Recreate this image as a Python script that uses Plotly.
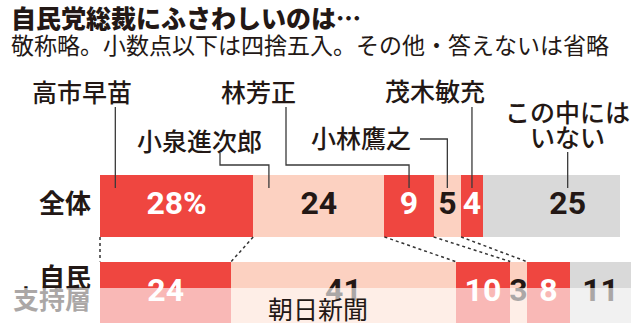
import plotly.graph_objects as go

# Survey: who is suitable as LDP president (percent, rounded)
candidates = ["高市早苗", "小泉進次郎", "林芳正", "小林鷹之", "茂木敏充", "この中にはいない"]
row_names = ["全体", "自民支持層"]
overall = [28, 24, 9, 5, 4, 25]
ldp_supporters = [24, 41, 10, 3, 8, 11]

RED = "#EF4640"
PINK = "#FCD1C1"
GRAY = "#D9D9D9"
INK = "#231815"
seg_colors = [RED, PINK, RED, PINK, RED, GRAY]
text_colors = ["white", INK, "white", INK, "white", INK]

JP = "Noto Sans CJK JP"
NUM = "Roboto, sans-serif"

# pixel geometry of the canvas
W, H = 640, 334
LEFT = 100            # where the bars begin
PX_PER_UNIT = 5.47    # horizontal pixels per percentage point
ROW_PX = 86.5         # vertical distance between the two bars
TOP_CENTER_PX = 206   # vertical centre of the upper bar
BAR_W = 0.715


def xd(px):
    return (px - LEFT) / PX_PER_UNIT


def yd(py):
    return 1 + (TOP_CENTER_PX - py) / ROW_PX


def edges(vals):
    out = [0]
    for v in vals:
        out.append(out[-1] + v)
    return out


top_edges = edges(overall)
bot_edges = edges(ldp_supporters)
TOP_Y, BOT_Y = 1, 0

fig = go.Figure()

for i, name in enumerate(candidates):
    fig.add_bar(
        y=[TOP_Y, BOT_Y], x=[overall[i], ldp_supporters[i]], orientation="h",
        width=BAR_W, marker=dict(color=seg_colors[i], line=dict(width=0)),
        name=name, showlegend=False, hoverinfo="skip",
    )

# where each leader line touches its segment (fraction along the segment)
leader_frac = [0.1, 0.12, 0.5, 0.5, 0.5, 0.62]
anchor = [top_edges[i] + leader_frac[i] * overall[i] for i in range(len(candidates))]

# value labels inside the bars
lx, ly, lt, lc = [], [], [], []
for row_y, vals, ed in [(TOP_Y, overall, top_edges), (BOT_Y, ldp_supporters, bot_edges)]:
    for i, v in enumerate(vals):
        cx = (ed[i] + ed[i + 1]) / 2
        if row_y == TOP_Y and i == len(vals) - 1:
            cx = anchor[i]
        lx.append(cx)
        ly.append(row_y)
        lt.append(f"{v}%" if (row_y == TOP_Y and i == 0) else str(v))
        lc.append(text_colors[i])
fig.add_scatter(
    x=lx, y=ly, text=lt, mode="text", textposition="middle center",
    textfont=dict(family=NUM, size=32, color=lc, weight=700),
    showlegend=False, hoverinfo="skip", cliponaxis=False,
)

# row labels
fig.add_scatter(
    x=[xd(91), xd(91), xd(91)], y=[TOP_Y, yd(280), yd(302)],
    text=[row_names[0], row_names[1][:2], row_names[1][2:]],
    mode="text", textposition="middle left",
    textfont=dict(family=JP, size=26, color=INK, weight=700),
    showlegend=False, hoverinfo="skip", cliponaxis=False,
)

shapes = []
LINE = dict(color="#3a3a3a", width=1.3)
y_in = TOP_Y + BAR_W / 2 - 13 / ROW_PX


def path(pts):
    return "M " + " L ".join(f"{x},{y}" for x, y in pts)


leader_paths = [
    [(anchor[0], yd(107)), (anchor[0], y_in)],
    [(xd(220), yd(153)), (xd(220), yd(165)), (anchor[1], yd(165)), (anchor[1], y_in)],
    [(xd(286), yd(107)), (xd(286), yd(165)), (anchor[2], yd(165)), (anchor[2], y_in)],
    [(xd(420), yd(139)), (anchor[3], yd(139)), (anchor[3], y_in)],
    [(anchor[4], yd(107)), (anchor[4], y_in)],
    [(anchor[5], yd(152)), (anchor[5], y_in)],
]
for pts in leader_paths:
    shapes.append(dict(type="path", path=path(pts), xref="x", yref="y",
                       line=LINE, layer="above"))

# dotted connectors between matching segment boundaries of the two bars
for k in range(5):
    shapes.append(dict(type="line", xref="x", yref="y",
                       x0=top_edges[k], y0=TOP_Y - BAR_W / 2,
                       x1=bot_edges[k], y1=BOT_Y + BAR_W / 2,
                       line=dict(color="#333333", width=1.5, dash="dot"),
                       layer="above"))

# pale band across the bottom
shapes.append(dict(type="rect", xref="x", yref="y",
                   x0=xd(0), x1=xd(W), y0=yd(H), y1=yd(288),
                   fillcolor="rgba(255,255,255,0.62)", line=dict(width=0),
                   layer="above"))

annotations = [
    dict(text="自民党総裁にふさわしいのは…", x=xd(9), y=yd(17), xanchor="left",
         yanchor="middle", font=dict(family=JP, size=25, color=INK, weight=900)),
    dict(text="敬称略。小数点以下は四捨五入。その他・答えないは省略", x=xd(9), y=yd(44),
         xanchor="left", yanchor="middle",
         font=dict(family=JP, size=23, color=INK, weight=400)),
    dict(text="朝日新聞", x=xd(318), y=yd(308), xanchor="center", yanchor="middle",
         font=dict(family=JP, size=25, color=INK, weight=400)),
]

name_pos = [
    ("高市早苗", 82, 91),
    ("小泉進次郎", 199, 140),
    ("林芳正", 258, 91),
    ("小林鷹之", 361, 137),
    ("茂木敏充", 435, 90),
    ("この中には", 567, 111),
    ("いない", 567, 136),
]
for txt, px, py in name_pos:
    annotations.append(dict(text=txt, x=xd(px), y=yd(py), xanchor="center",
                            yanchor="middle",
                            font=dict(family=JP, size=25, color=INK, weight=500)))
for a in annotations:
    a.update(xref="x", yref="y", showarrow=False)

fig.update_layout(
    width=W, height=H, barmode="stack",
    margin=dict(l=0, r=0, t=0, b=0, pad=0),
    paper_bgcolor="white", plot_bgcolor="white",
    shapes=shapes, annotations=annotations,
    xaxis=dict(range=[xd(0), xd(W)], visible=False, fixedrange=True),
    yaxis=dict(range=[yd(H), yd(0)], visible=False, fixedrange=True),
    bargap=0,
)

fig.write_html("out.html", config={"displayModeBar": False})
